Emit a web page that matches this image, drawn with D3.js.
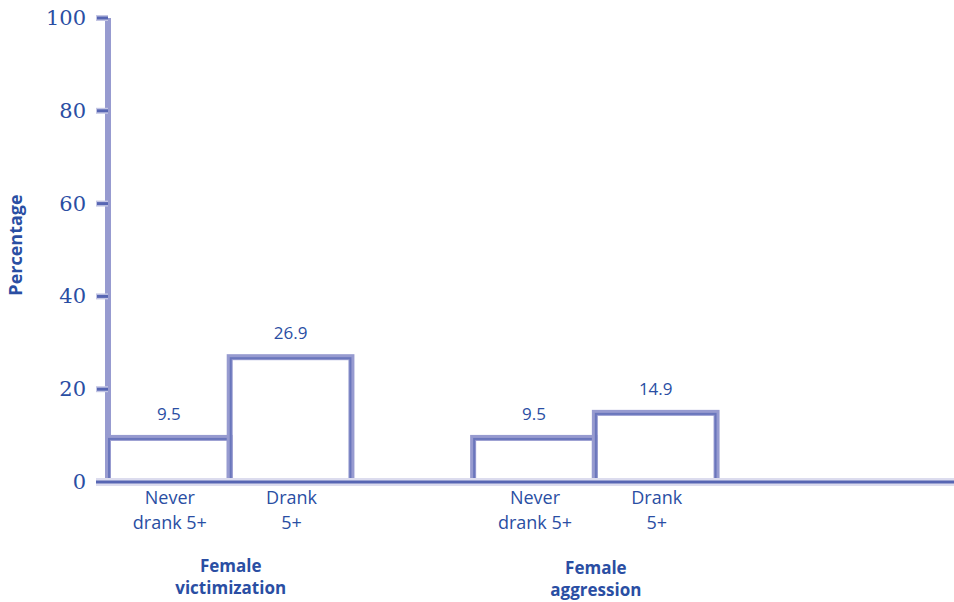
<!DOCTYPE html>
<html>
<head>
<meta charset="utf-8">
<script src="https://cdn.jsdelivr.net/npm/d3@7"></script>
<style>
  body { margin: 0; background: #fff; }
  text { fill: #2a4ea3; }
</style>
</head>
<body>
<div id="content"></div>
<script>
var Width = 954;
var Height = 602;

// data
var groups = ["Female victimization", "Female aggression"];
var categories = ["Never drank 5+", "Drank 5+", "Never drank 5+", "Drank 5+"];
var values = [9.5, 26.9, 9.5, 14.9];
var slots = [0, 1, 3, 4]; // bar position in slots along the x axis
var groupSlots = [1, 4];
var yTicks = [0, 20, 40, 60, 80, 100];

var light = "#979bd0";
var dark = "#5766b3";

var svg = d3.select("#content").append("svg")
  .attr("width", Width)
  .attr("height", Height);

var x = d3.scaleLinear().domain([0, 7]).range([108, 960]);
var y = d3.scaleLinear().domain([0, 100]).range([482, 18]);

// y axis line
svg.append("line")
  .attr("x1", x(0)).attr("x2", x(0))
  .attr("y1", y(100)).attr("y2", y(0))
  .attr("stroke", light).attr("stroke-width", 6);

// ticks
svg.selectAll(".tick")
  .data(yTicks)
  .enter()
  .append("g")
  .each(function (d) {
    var g = d3.select(this);
    g.append("line")
      .attr("x1", 96).attr("x2", 108)
      .attr("y1", y(d)).attr("y2", y(d))
      .attr("stroke", "#c4c6e4").attr("stroke-width", 6);
    g.append("line")
      .attr("x1", 97).attr("x2", 108)
      .attr("y1", y(d)).attr("y2", y(d))
      .attr("stroke", dark).attr("stroke-width", 3);
    g.append("text")
      .attr("x", 86).attr("y", y(d) + 7)
      .attr("text-anchor", "end")
      .style("font-family", "'DejaVu Serif', 'Liberation Serif', serif")
      .style("font-size", "21px")
      .text(d);
  });

// bars
var bars = svg.selectAll(".bar")
  .data(values)
  .enter()
  .append("g")
  .attr("class", "bar");

bars.append("rect")
  .attr("x", function (d, i) { return x(slots[i]); })
  .attr("y", function (d) { return y(d); })
  .attr("width", function (d, i) { return x(slots[i] + 1) - x(slots[i]); })
  .attr("height", function (d) { return y(0) - y(d); })
  .attr("fill", "none")
  .attr("stroke", light)
  .attr("stroke-width", 6);

bars.append("rect")
  .attr("x", function (d, i) { return x(slots[i]) + 1; })
  .attr("y", function (d) { return y(d) + 1; })
  .attr("width", function (d, i) { return x(slots[i] + 1) - x(slots[i]) - 2; })
  .attr("height", function (d) { return y(0) - y(d) - 1; })
  .attr("fill", "none")
  .attr("stroke", dark)
  .attr("stroke-width", 2)
  .attr("stroke-opacity", 0.7);

// baseline
svg.append("line")
  .attr("x1", 96).attr("x2", Width)
  .attr("y1", y(0)).attr("y2", y(0))
  .attr("stroke", "#dcdcee").attr("stroke-width", 8);
svg.append("line")
  .attr("x1", 96).attr("x2", Width)
  .attr("y1", y(0)).attr("y2", y(0))
  .attr("stroke", dark).attr("stroke-width", 3);

// value labels
bars.append("text")
  .attr("x", function (d, i) { return (x(slots[i]) + x(slots[i] + 1)) / 2; })
  .attr("y", function (d) { return y(d) - 18; })
  .attr("text-anchor", "middle")
  .style("font-family", "'Open Sans', sans-serif")
  .style("font-size", "17px")
  .text(function (d) { return d; });

// category labels
bars.each(function (d, i) {
  var words = categories[i].split(" ");
  var lines = words.length > 2 ? [words[0], words.slice(1).join(" ")] : words;
  var cx = (x(slots[i]) + x(slots[i] + 1)) / 2 + 1;
  d3.select(this).selectAll(".cat")
    .data(lines)
    .enter()
    .append("text")
    .attr("x", cx)
    .attr("y", function (l, j) { return 504 + j * 25; })
    .attr("text-anchor", "middle")
    .style("font-family", "'Open Sans', sans-serif")
    .style("font-size", "18px")
    .text(function (l) { return l; });
});

// group titles
groups.forEach(function (g, i) {
  var words = g.split(" ");
  svg.selectAll(".grp" + i)
    .data(words)
    .enter()
    .append("text")
    .attr("x", x(groupSlots[i]) + 1)
    .attr("y", function (l, j) { return 572 + i * 2 + j * 22; })
    .attr("text-anchor", "middle")
    .style("font-family", "'Open Sans', sans-serif")
    .style("font-weight", "bold")
    .style("font-size", "17px")
    .text(function (l) { return l; });
});

// y axis title
svg.append("text")
  .attr("transform", "rotate(-90)")
  .attr("x", -245)
  .attr("y", 22)
  .attr("text-anchor", "middle")
  .style("font-family", "'Open Sans', sans-serif")
  .style("font-weight", "bold")
  .style("font-size", "18px")
  .text("Percentage");
</script>
</body>
</html>
